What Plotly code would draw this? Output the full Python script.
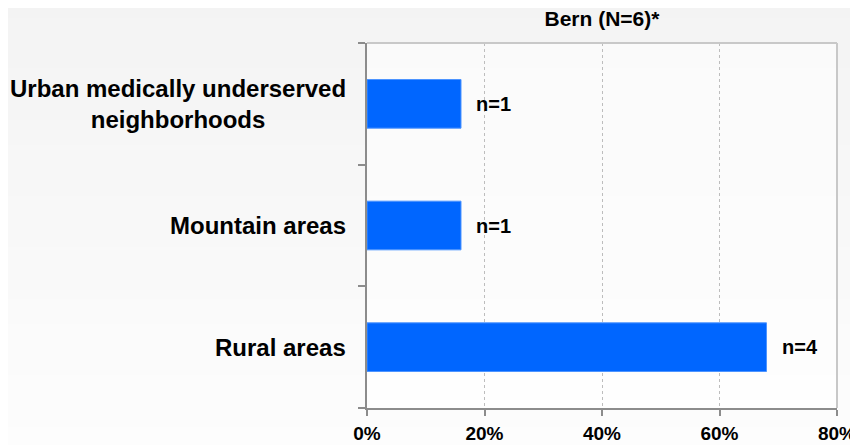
import plotly.graph_objects as go

# data (bottom to top)
categories = ["Rural areas", "Mountain areas",
              "Urban medically underserved<br>neighborhoods"]
shares = [68, 16, 16]  # percent of respondents
counts = ["n=4", "n=1", "n=1"]
x_ticks = [0, 20, 40, 60, 80]
x_tick_text = ["0%", "20%", "40%", "60%", "80%"]
title = "Bern (N=6)*"

FONT = "Liberation Sans, Arial, sans-serif"
BLUE = "#0066ff"
AXIS = "#8c8c8c"

fig = go.Figure()
fig.add_trace(go.Bar(x=shares, y=categories, orientation="h",
                     width=0.4,
                     marker=dict(color=BLUE, line=dict(color="#4d94ff", width=1)),
                     hoverinfo="skip"))

# soft grey-to-white background gradient
shapes = []
bands = 20
for i in range(bands):
    t = i / (bands - 1)
    c = int(243 + (254 - 243) * t)
    shapes.append(dict(type="rect", xref="paper", yref="paper", layer="below",
                       x0=-1, x1=2, y0=1.2 - (i + 1) * 1.4 / bands,
                       y1=1.2 - i * 1.4 / bands + 0.01,
                       fillcolor=f"rgb({c},{c},{c})", line=dict(width=0)))
# plot area slightly lighter
shapes.append(dict(type="rect", xref="x domain", yref="y domain", layer="below",
                   x0=0, x1=1, y0=0, y1=1,
                   fillcolor="rgba(255,255,255,0.55)", line=dict(width=0)))
# light top and right border
shapes.append(dict(type="line", xref="x domain", yref="y domain",
                   x0=0, x1=1, y0=1, y1=1, line=dict(color="#c8c8c8", width=2)))
shapes.append(dict(type="line", xref="x domain", yref="y domain",
                   x0=1, x1=1, y0=0, y1=1, line=dict(color="#c8c8c8", width=2)))

annotations = []
for cat in categories:
    annotations.append(dict(x=0, xref="paper", y=cat, yref="y",
                            text=cat, showarrow=False, xanchor="right",
                            xshift=-19, align="center",
                            font=dict(family=FONT, size=24, color="black",
                                      weight="bold")))
for v, cat, lab in zip(shares, categories, counts):
    annotations.append(dict(x=v, xref="x", y=cat, yref="y",
                            text=lab, showarrow=False, xanchor="left",
                            xshift=13,
                            font=dict(family=FONT, size=20, color="black",
                                      weight="bold")))

fig.update_layout(
    width=850, height=437,
    margin=dict(l=359, r=21, t=35, b=37, autoexpand=False),
    paper_bgcolor="#f7f7f7",
    plot_bgcolor="rgba(0,0,0,0)",
    showlegend=False,
    title=dict(text=title, x=0.5, xref="paper", xanchor="center",
               y=1 - 11 / 437, yanchor="middle",
               font=dict(family=FONT, size=21, color="black", weight="bold")),
    shapes=shapes,
    annotations=annotations,
    xaxis=dict(range=[0, 80], tickvals=x_ticks, ticktext=x_tick_text,
               automargin=False,
               showgrid=True, gridcolor="#bdbdbd", griddash="dot", gridwidth=1,
               showline=True, linecolor=AXIS, linewidth=2,
               ticks="outside", ticklen=6, tickcolor=AXIS, tickwidth=2,
               ticklabelstandoff=1,
               zeroline=False,
               tickfont=dict(family=FONT, size=19, color="black",
                             weight="bold")),
    yaxis=dict(type="category", categoryorder="array", categoryarray=categories,
               range=[-0.5, 2.5], tickson="boundaries", automargin=False,
               showgrid=False, showticklabels=False,
               showline=True, linecolor=AXIS, linewidth=2,
               ticks="outside", ticklen=7, tickcolor=AXIS, tickwidth=2),
)

fig.write_html("out.html")
